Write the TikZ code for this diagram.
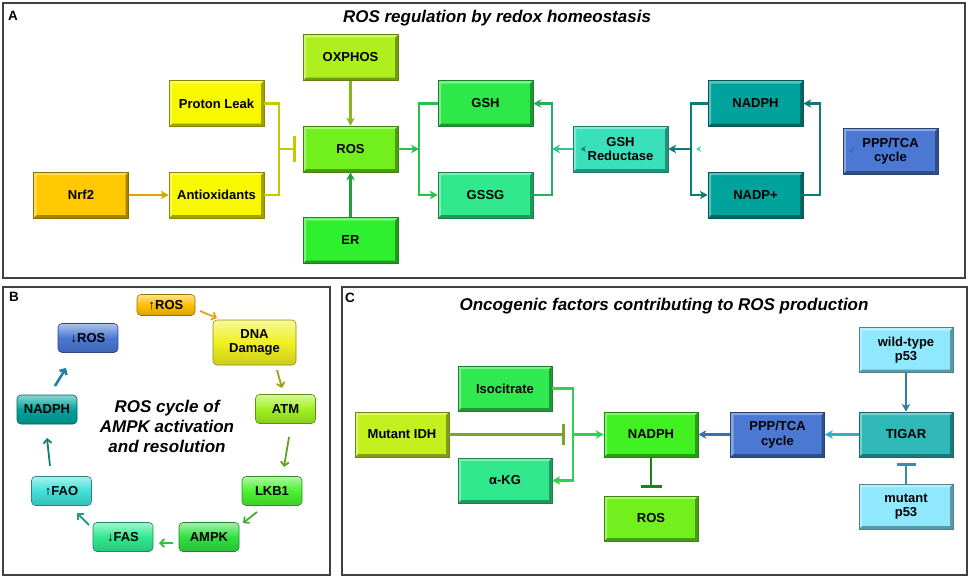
\documentclass[tikz,border=0pt]{standalone}
\usepackage{fontspec}
\setmainfont{Liberation Sans}
\usetikzlibrary{arrows.meta,calc}
\definecolor{cNrf}{HTML}{FFC800}
\definecolor{cYel}{HTML}{F8F800}
\definecolor{cOx}{HTML}{AEEF1E}
\definecolor{cROS}{HTML}{72F01E}
\definecolor{cER}{HTML}{2EF02E}
\definecolor{cGSH}{HTML}{2EE84A}
\definecolor{cGSSG}{HTML}{32E88C}
\definecolor{cGSHR}{HTML}{3AE0BC}
\definecolor{cNADPH}{HTML}{00A29C}
\definecolor{cPPP}{HTML}{4A78D2}
\definecolor{cUpROS}{HTML}{FFC000}
\definecolor{cDNA}{HTML}{F0F020}
\definecolor{cATM}{HTML}{A0F020}
\definecolor{cLKB}{HTML}{4CF030}
\definecolor{cAMPK}{HTML}{30E040}
\definecolor{cFAS}{HTML}{30E890}
\definecolor{cFAO}{HTML}{40E0D8}
\definecolor{cMIDH}{HTML}{C4F020}
\definecolor{cIso}{HTML}{30E850}
\definecolor{cNADPHc}{HTML}{40F020}
\definecolor{cTIGAR}{HTML}{30B8B8}
\definecolor{cP53}{HTML}{90E8FF}
\definecolor{lOrange}{HTML}{D9A400}
\definecolor{lYel}{HTML}{C8C800}
\definecolor{lOlive}{HTML}{8CB41E}
\definecolor{lGreen}{HTML}{20A040}
\definecolor{lGreen2}{HTML}{28C048}
\definecolor{lMint}{HTML}{20B060}
\definecolor{lTurq}{HTML}{30C0A0}
\definecolor{lTeal}{HTML}{107A7A}
\definecolor{lBlue}{HTML}{3A70B0}
\definecolor{lCyan}{HTML}{30B0C0}
\definecolor{lSteel}{HTML}{2E7FA0}
\definecolor{lIDH}{HTML}{80A030}
\definecolor{lDkGreen}{HTML}{208020}
\definecolor{lCgreen}{HTML}{30D050}
\definecolor{lMut}{HTML}{3A8AAA}
\definecolor{bA}{HTML}{E8A020}
\definecolor{bB}{HTML}{A0A010}
\definecolor{bC}{HTML}{60A020}
\definecolor{bD}{HTML}{40B030}
\definecolor{bE}{HTML}{30C040}
\definecolor{bF}{HTML}{20A080}
\definecolor{bG}{HTML}{108070}
\definecolor{bH}{HTML}{2080A0}
\tikzset{
  bx/.style={draw=#1!55!black, line width=0.6pt, fill=#1, minimum width=95pt,
    minimum height=46pt, inner sep=0pt, align=center,
    font=\fontsize{13}{14.5}\selectfont\bfseries,
    path picture={
      \fill[black,opacity=.35] (path picture bounding box.south west) -- (path picture bounding box.south east)
        -- (path picture bounding box.north east) -- ([xshift=-3pt,yshift=-3pt]path picture bounding box.north east)
        -- ([xshift=-3pt,yshift=3pt]path picture bounding box.south east) -- ([xshift=3pt,yshift=3pt]path picture bounding box.south west) -- cycle;
      \fill[white,opacity=.35] (path picture bounding box.south west) -- (path picture bounding box.north west)
        -- (path picture bounding box.north east) -- ([xshift=-3pt,yshift=-3pt]path picture bounding box.north east)
        -- ([xshift=3pt,yshift=-3pt]path picture bounding box.north west) -- ([xshift=3pt,yshift=3pt]path picture bounding box.south west) -- cycle;
    }},
  rbx/.style={draw=#1!60!black, line width=0.6pt, rounded corners=4pt,
    top color=#1!45!white, bottom color=#1!85!black, middle color=#1,
    minimum width=60pt, minimum height=29pt, inner sep=0pt, align=center,
    font=\fontsize{13}{14.5}\selectfont\bfseries},
  ln/.style={line width=2.3pt, draw=#1},
  arr/.style={line width=2.3pt, draw=#1, -{Stealth[length=8pt,width=8.5pt,inset=2.5pt]}},
  barr/.style={line width=1.8pt, draw=#1, -{Straight Barb[length=4pt,width=8pt]}},
  tbar/.style 2 args={line width=2.6pt, draw=#1, -{Bar[width=#2]}},
  frame/.style={draw=black!75, line width=1.2pt},
  plabel/.style={font=\fontsize{13.5}{13.5}\selectfont\bfseries, anchor=center},
  ttl/.style={font=\fontsize{17}{20}\selectfont\bfseries\itshape, align=center},
  stub/.style={line width=1pt, draw=#1, -{Stealth[length=5pt,width=6pt,inset=1.5pt]}}
}
\begin{document}
\begin{tikzpicture}[x=1pt,y=-1pt]
\useasboundingbox (0,0) rectangle (970,579);
\fill[white] (0,0) rectangle (970,579);
% ---------------- Panel A ----------------
\draw[frame] (3,3) rectangle (965,278);
\node[plabel] (labA) at (13,16) {A};
\node[ttl] (titleA) at (497,18) {ROS regulation by redox homeostasis};
\node[bx=cNrf] (Nrf) at (81,195) {Nrf2};
\node[bx=cYel] (Proton) at (216.5,103.5) {Proton Leak};
\node[bx=cYel] (Anti) at (216.5,195) {Antioxidants};
\node[bx=cOx] (OX) at (350.5,57.5) {OXPHOS};
\node[bx=cROS] (ROS) at (350.5,149) {ROS};
\node[bx=cER] (ER) at (350.5,240.5) {ER};
\node[bx=cGSH] (GSH) at (485.5,103.5) {GSH};
\node[bx=cGSSG] (GSSG) at (485.5,195) {GSSG};
\node[bx=cGSHR] (GSHR) at (620.5,149) {GSH\\Reductase};
\node[bx=cNADPH] (NADPH) at (755.5,103.5) {NADPH};
\node[bx=cNADPH] (NADP) at (755.5,195) {NADP+};
\node[bx=cPPP] (PPP) at (890.5,151) {PPP/TCA\\cycle};
\coordinate (jA) at (279,149);
\coordinate (tA) at (296,149);
\coordinate (jB) at (419,149);
\coordinate (jC) at (552,149);
\coordinate (jD) at (691,149);
\coordinate (jE) at (820,149);
\draw[arr=lOrange] (Nrf.east) -- (Anti.west);
\draw[ln=lYel] (Proton.east) -| (jA);
\draw[ln=lYel] (Anti.east) -| (jA);
\draw[tbar={lYel}{26pt}] (jA) -- (tA);
\draw[arr=lOlive] (OX.south) -- (ROS.north);
\draw[arr=lGreen] (ER.north) -- (ROS.south);
\draw[arr=lGreen2] (ROS.east) -- (jB);
\draw[arr=lGreen2] (GSH.west) -| (jB) |- (GSSG.west);
\draw[arr=lMint] (GSSG.east) -| (jC) |- (GSH.east);
\draw[arr=lTurq] (GSHR.west) -- (jC);
\draw[arr=lTeal] (NADPH.west) -| (jD) |- (NADP.west);
\draw[arr=lTeal] (jD) -- (GSHR.east);
\draw[arr=lTeal] (NADP.east) -| (jE) |- (NADPH.east);
\draw[stub=lTeal] ([xshift=12pt]GSHR.west) -- ([xshift=8pt]GSHR.west);
\draw[stub=cGSHR] ([xshift=9pt]jD) -- ([xshift=5pt]jD);
\draw[stub=lBlue] ([xshift=10pt]PPP.west) -- ([xshift=6pt]PPP.west);
% ---------------- Panel B ----------------
\draw[frame] (3,287) rectangle (330,575);
\node[plabel] (labB) at (14,297) {B};
\node[rbx=cUpROS, minimum width=58pt, minimum height=21pt] (upROS) at (166,305) {↑ROS};
\node[rbx=cDNA, minimum width=83pt, minimum height=45pt] (DNA) at (254.5,342.5) {DNA\\Damage};
\node[rbx=cATM] (ATM) at (285.5,409) {ATM};
\node[rbx=cLKB] (LKB) at (272,491) {LKB1};
\node[rbx=cAMPK] (AMPK) at (209,537) {AMPK};
\node[rbx=cFAS] (FAS) at (123,537) {↓FAS};
\node[rbx=cFAO] (FAO) at (61.5,491) {↑FAO};
\node[rbx=cNADPH] (NADPHb) at (47,409.5) {NADPH};
\node[rbx=cPPP] (dROS) at (88,338) {↓ROS};
\node[ttl] (titleB) at (167,426) {ROS cycle of\\AMPK activation\\and resolution};
\coordinate (b1s) at (200,311); \coordinate (b1e) at (217,318);
\coordinate (b2s) at (277,370); \coordinate (b2e) at (282,388);
\coordinate (b3s) at (289,437); \coordinate (b3e) at (284,467);
\coordinate (b4s) at (257,512); \coordinate (b4e) at (243,523);
\coordinate (b5s) at (173,543); \coordinate (b5e) at (159,543);
\coordinate (b6s) at (89,525);  \coordinate (b6e) at (77,513);
\coordinate (b7s) at (50,466);  \coordinate (b7e) at (47,438);
\coordinate (b8s) at (55,386);  \coordinate (b8e) at (66,368);
\draw[barr=bA] (b1s) -- (b1e);
\draw[barr=bB] (b2s) -- (b2e);
\draw[barr=bC] (b3s) -- (b3e);
\draw[barr=bD] (b4s) -- (b4e);
\draw[barr=bE] (b5s) -- (b5e);
\draw[barr=bF] (b6s) -- (b6e);
\draw[barr=bG] (b7s) -- (b7e);
\draw[barr=bH, line width=2.6pt] (b8s) -- (b8e);
% ---------------- Panel C ----------------
\draw[frame] (342,287) rectangle (967,575);
\node[plabel] (labC) at (350,298) {C};
\node[ttl] (titleC) at (664,306) {Oncogenic factors contributing to ROS production};
\node[bx=cMIDH, minimum width=94pt, minimum height=45pt] (MIDH) at (402,434.5) {Mutant IDH};
\node[bx=cIso, minimum width=94pt, minimum height=45pt] (Iso) at (505,388.5) {Isocitrate};
\node[bx=cGSSG, minimum width=94pt, minimum height=45pt] (aKG) at (505,480.5) {α-KG};
\node[bx=cNADPHc, minimum width=94pt, minimum height=45pt] (NADPHc) at (651,434.5) {NADPH};
\node[bx=cROS, minimum width=94pt, minimum height=45pt] (ROSc) at (651,518.5) {ROS};
\node[bx=cPPP, minimum width=94pt, minimum height=45pt] (PPPc) at (777.5,434.5) {PPP/TCA\\cycle};
\node[bx=cTIGAR, minimum width=94pt, minimum height=45pt] (TIGAR) at (906,434.5) {TIGAR};
\node[bx=cP53, minimum width=94pt, minimum height=45pt] (wt) at (906,350) {wild-type\\p53};
\node[bx=cP53, minimum width=94pt, minimum height=45pt] (mut) at (906,506.5) {mutant\\p53};
\coordinate (jF) at (573,434.5);
\coordinate (tC) at (565,434.5);
\coordinate (tN) at (651,488);
\coordinate (tM) at (906,463);
\draw[tbar={lIDH}{21pt}] (MIDH.east) -- (tC);
\draw[arr=lCgreen] (Iso.east) -| (jF) |- (aKG.east);
\draw[arr=lCgreen] (jF) -- (NADPHc.west);
\draw[tbar={lDkGreen}{21pt}] (NADPHc.south) -- (tN);
\draw[arr=lBlue] (PPPc.west) -- (NADPHc.east);
\draw[arr=lCyan] (TIGAR.west) -- (PPPc.east);
\draw[arr=lSteel] (wt.south) -- (TIGAR.north);
\draw[tbar={lMut}{19pt}] (mut.north) -- (tM);
\end{tikzpicture}
\end{document}
